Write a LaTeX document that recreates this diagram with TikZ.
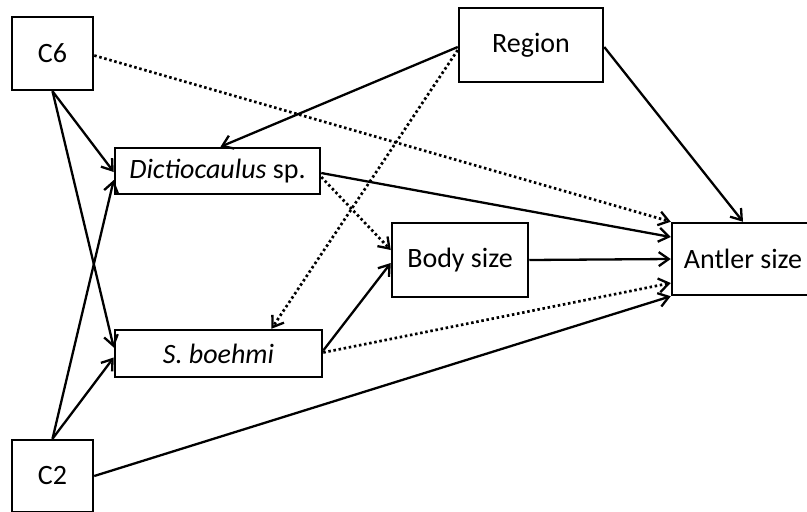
\documentclass[tikz,border=0pt]{standalone}
\usepackage{fontspec}
\setmainfont{Carlito}
\usetikzlibrary{arrows.meta,calc}
\begin{document}
\begin{tikzpicture}[x=1pt,y=-1pt,
  box/.style={draw=black,line width=2.5pt,fill=white,inner sep=0pt,font=\fontsize{28}{32}\selectfont},
  solidarr/.style={line width=2.3pt,-{Straight Barb[length=10pt,width=14pt,line width=2.3pt]}},
  dotarr/.style={line width=2.7pt,dash pattern=on 2.5pt off 2.7pt,-{Straight Barb[length=10pt,width=14pt,line width=2.3pt]}}]
\useasboundingbox (0,0) rectangle (807,512);
\clip (0,0) rectangle (807,512);
% nodes
\node[box,minimum width=81pt,minimum height=73pt] (c6) at (52.5,53.5) {C6};
\node[box,minimum width=144pt,minimum height=74pt] (region) at (531,45) {Region};
\node[box,minimum width=205pt,minimum height=46pt] (dict) at (217.5,171) {\textit{Dictiocaulus} sp.};
\node[box,minimum width=136pt,minimum height=74pt] (body) at (460,260) {Body size};
\node[box,minimum width=142pt,minimum height=72pt] (antler) at (743,259) {Antler size};
\node[box,minimum width=207pt,minimum height=47pt] (boehmi) at (218.5,353.5) {\textit{S. boehmi}};
\node[box,minimum width=81pt,minimum height=72pt] (c2) at (52.5,476) {C2};
% connectors
\draw[solidarr] (c6.south) -- ($(dict.west)+(0,1)$);
\draw[solidarr] (c6.south) -- ($(boehmi.west)+(0,-6)$);
\draw[solidarr] (c2.north) -- ($(dict.west)+(0,9)$);
\draw[solidarr] (c2.north) -- ($(boehmi.west)+(0,4)$);
\draw[dotarr] ($(c6.east)+(0,2)$) -- (antler.north west);
\draw[solidarr] ($(region.west)+(0,2)$) -- ($(dict.north)+(3,0)$);
\draw[dotarr] ($(region.west)+(0,5)$) -- ($(boehmi.north)+(53,0)$);
\draw[solidarr] ($(region.east)+(0,2)$) -- (antler.north);
\draw[solidarr] ($(dict.east)+(0,2)$) -- ($(antler.west)+(0,-22)$);
\draw[dotarr] ($(dict.east)+(0,6)$) -- ($(body.west)+(0,-10)$);
\draw[solidarr] (body.east) -- (antler.west);
\draw[solidarr] ($(boehmi.east)+(0,-3)$) -- ($(body.west)+(0,3)$);
\draw[dotarr] ($(boehmi.east)+(0,-1)$) -- ($(antler.west)+(0,24)$);
\draw[solidarr] (c2.east) -- (antler.south west);
\end{tikzpicture}
\end{document}
